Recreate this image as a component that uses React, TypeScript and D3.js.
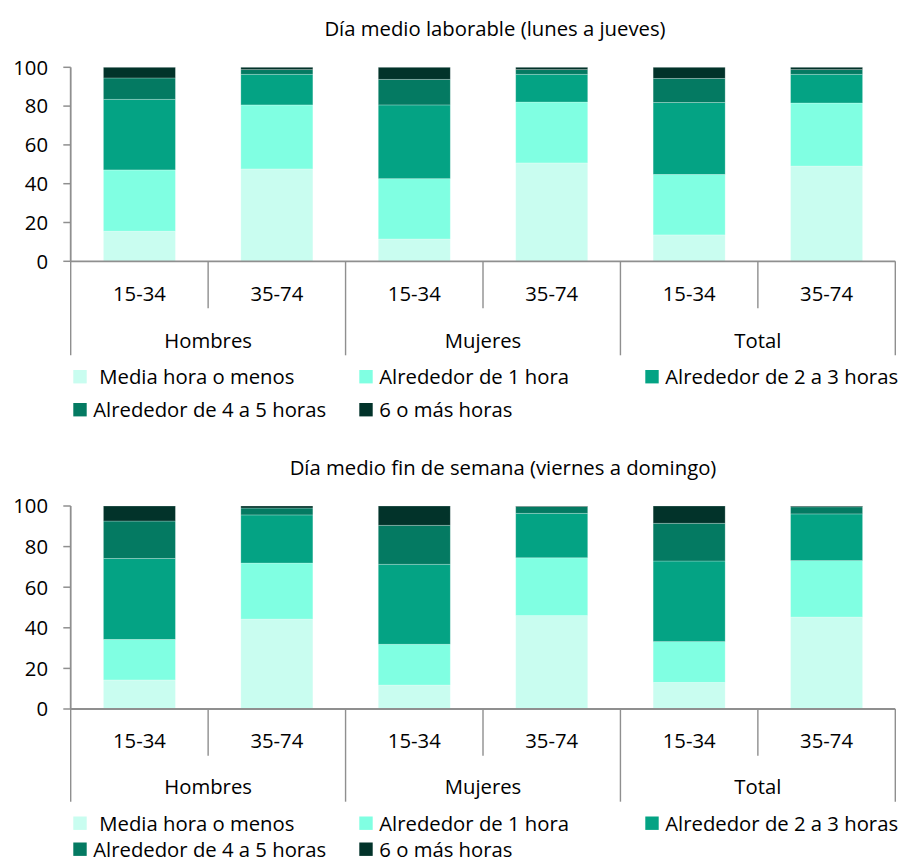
import React from "react";
import * as d3 from "d3";

// Age bands (x categories) and the sex groups they belong to
const ageBands = ["15-34", "35-74", "15-34", "35-74", "15-34", "35-74"];
const sexGroups = ["Hombres", "Mujeres", "Total"];
const yTicks = [0, 20, 40, 60, 80, 100];

const seriesNames = [
  "Media hora o menos",
  "Alrededor de 1 hora",
  "Alrededor de 2 a 3 horas",
  "Alrededor de 4 a 5 horas",
  "6 o más horas",
];
const seriesColors = ["#c9fdf0", "#80ffe2", "#04a384", "#047a62", "#02332a"];

// Weekday (Monday to Thursday), % of people per daily time band
const labMediaHora = [15.5, 47.6, 11.5, 50.7, 13.6, 49.1];
const labUnaHora = [31.6, 33.0, 31.1, 31.4, 31.2, 32.5];
const labDosTres = [36.4, 15.8, 38.0, 14.3, 37.1, 14.8];
const labCuatroCinco = [11.0, 2.4, 13.2, 2.4, 12.4, 2.4];
const labSeisMas = [5.5, 1.2, 6.2, 1.2, 5.7, 1.2];

// Weekend (Friday to Sunday)
const finMediaHora = [14.3, 44.3, 11.8, 46.0, 13.1, 45.3];
const finUnaHora = [20.0, 27.6, 20.1, 28.5, 20.1, 27.8];
const finDosTres = [39.9, 23.7, 39.4, 21.9, 39.7, 23.0];
const finCuatroCinco = [18.4, 3.4, 19.2, 3.3, 18.6, 3.5];
const finSeisMas = [7.4, 1.0, 9.5, 0.3, 8.5, 0.4];

const FONT = "'Open Sans', 'Noto Sans', sans-serif";
const FS = 20.3;
const AXIS = "#8f8f8f";

type Layout = {
  title: string;
  titleX: number;
  titleY: number;
  top: number;
  base: number;
  innerTick: number;
  groupTick: number;
  ageY: number;
  groupY: number;
  legendRows: [number, number];
  series: number[][];
};

const charts: Layout[] = [
  {
    title: "Día medio laborable (lunes a jueves)",
    titleX: 495,
    titleY: 36,
    top: 67.3,
    base: 261.3,
    innerTick: 47,
    groupTick: 94,
    ageY: 301,
    groupY: 347.5,
    legendRows: [384, 417],
    series: [labMediaHora, labUnaHora, labDosTres, labCuatroCinco, labSeisMas],
  },
  {
    title: "Día medio fin de semana (viernes a domingo)",
    titleX: 503,
    titleY: 474.5,
    top: 506,
    base: 709,
    innerTick: 46.7,
    groupTick: 92.7,
    ageY: 748.3,
    groupY: 794,
    legendRows: [830.5, 856.5],
    series: [finMediaHora, finUnaHora, finDosTres, finCuatroCinco, finSeisMas],
  },
];

const PLOT_LEFT = 70.7;
const PLOT_RIGHT = 895.3;

function StackedChart({ c }: { c: Layout }) {
  const idx = ageBands.map((_, i) => i);
  const band = d3.scaleBand<number>().domain(idx).range([PLOT_LEFT, PLOT_RIGHT]).padding(0);
  const barX = d3
    .scaleBand<number>()
    .domain(idx)
    .range([PLOT_LEFT, PLOT_RIGHT])
    .paddingInner(0.476)
    .paddingOuter(0.238);
  const y = d3.scaleLinear().domain([0, 100]).range([c.base, c.top]);

  const rows = idx.map((i) => {
    const r: Record<string, number> = {};
    seriesNames.forEach((s, k) => (r[s] = c.series[k][i]));
    return r;
  });
  const stacked = d3.stack<Record<string, number>>().keys(seriesNames)(rows);

  const groupScale = d3
    .scaleBand<string>()
    .domain(sexGroups)
    .range([PLOT_LEFT, PLOT_RIGHT])
    .padding(0);

  const legendCol = (k: number) => 73.3 + (k % 3) * 286;
  const legendRow = (k: number) => c.legendRows[Math.floor(k / 3)];

  return (
    <g>
      <text x={c.titleX} y={c.titleY} textAnchor="middle" fontSize={FS} fontFamily={FONT} fill="#000">
        {c.title}
      </text>

      {/* bars */}
      {stacked.map((layer, k) => (
        <g key={k} fill={seriesColors[k]}>
          {layer.map((d, i) => (
            <rect
              key={i}
              x={barX(i)}
              width={barX.bandwidth()}
              y={y(d[1])}
              height={Math.max(0, y(d[0]) - y(d[1]))}
              stroke="rgba(255,255,255,0.3)"
              strokeWidth={0.8}
            />
          ))}
        </g>
      ))}

      {/* y axis */}
      <line x1={PLOT_LEFT} x2={PLOT_LEFT} y1={y(100)} y2={y(0)} stroke={AXIS} strokeWidth={1.8} />
      {yTicks.map((t) => (
        <g key={t}>
          <line x1={PLOT_LEFT - 7.4} x2={PLOT_LEFT} y1={y(t)} y2={y(t)} stroke={AXIS} strokeWidth={1.5} />
          <text
            x={48}
            y={y(t)}
            dy="0.36em"
            textAnchor="end"
            fontSize={FS}
            fontFamily={FONT}
            fill="#000"
          >
            {t}
          </text>
        </g>
      ))}

      {/* x axis and category separators */}
      <line x1={PLOT_LEFT} x2={PLOT_RIGHT} y1={c.base} y2={c.base} stroke={AXIS} strokeWidth={1.8} />
      {idx.map((i) => (
        <line
          key={"s" + i}
          x1={band(i)}
          x2={band(i)}
          y1={c.base}
          y2={c.base + (i % 2 === 0 ? c.groupTick : c.innerTick)}
          stroke={AXIS}
          strokeWidth={1.4}
        />
      ))}
      <line
        x1={PLOT_RIGHT}
        x2={PLOT_RIGHT}
        y1={c.base}
        y2={c.base + c.groupTick}
        stroke={AXIS}
        strokeWidth={1.4}
      />
      {idx.map((i) => (
        <text
          key={"a" + i}
          x={band(i)! + band.bandwidth() / 2}
          y={c.ageY}
          textAnchor="middle"
          fontSize={FS}
          fontFamily={FONT}
          fill="#000"
        >
          {ageBands[i]}
        </text>
      ))}
      {sexGroups.map((g) => (
        <text
          key={g}
          x={groupScale(g)! + groupScale.bandwidth() / 2}
          y={c.groupY}
          textAnchor="middle"
          fontSize={FS}
          fontFamily={FONT}
          fill="#000"
        >
          {g}
        </text>
      ))}

      {/* legend */}
      {seriesNames.map((s, k) => (
        <g key={s}>
          <rect
            x={legendCol(k)}
            y={legendRow(k) - 14}
            width={13.4}
            height={13.4}
            fill={seriesColors[k]}
          />
          <text
            x={legendCol(k) + (k === 0 ? 26 : 20)}
            y={legendRow(k)}
            fontSize={FS}
            fontFamily={FONT}
            fill="#000"
          >
            {s}
          </text>
        </g>
      ))}
    </g>
  );
}

export default function App() {
  return (
    <svg
      width={905}
      height={862}
      style={{ position: "absolute", left: 0, top: 0, background: "#fff" }}
    >
      <rect width={905} height={862} fill="#fff" />
      {charts.map((c, i) => (
        <StackedChart key={i} c={c} />
      ))}
    </svg>
  );
}
